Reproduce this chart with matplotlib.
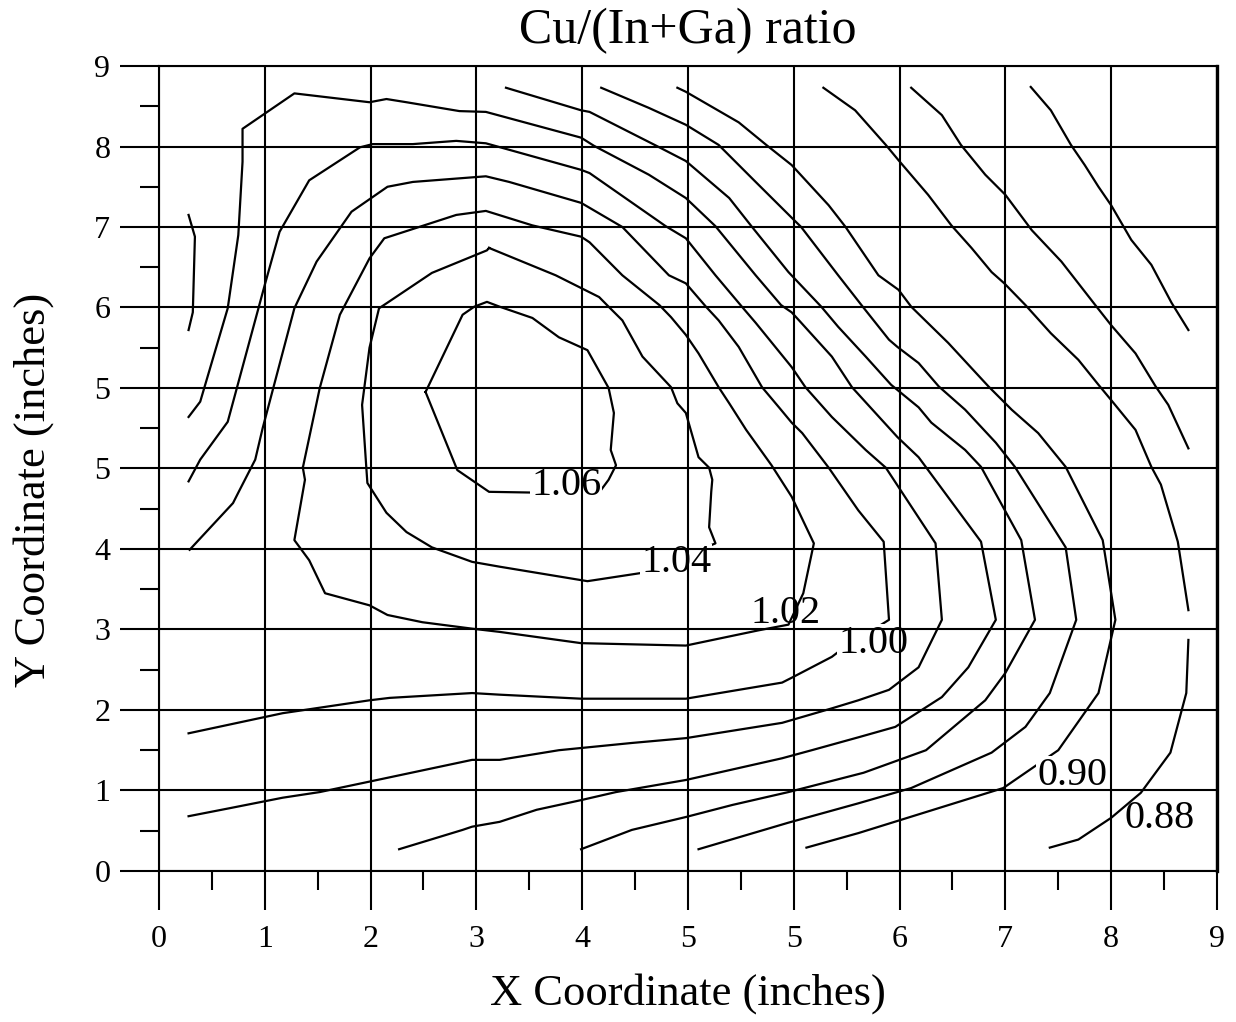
import numpy as np
import matplotlib
matplotlib.use('Agg')
import matplotlib.pyplot as plt

plt.rcParams['font.family'] = 'serif'
plt.rcParams['font.serif'] = ['Liberation Serif', 'DejaVu Serif']

# tick labels exactly as printed on the chart (note the doubled 5)
x_tick_labels = ['0', '1', '2', '3', '4', '5', '5', '6', '7', '8', '9']
y_tick_labels = ['0', '1', '2', '3', '4', '5', '5', '6', '7', '8', '9']

# contour lines, in axis units (0..10 on both axes)
c106_x = [2.52, 2.87, 2.98, 3.10, 3.22, 3.53, 3.78, 4.05, 4.25, 4.30, 4.27, 4.32, 4.25, 4.16, 3.57, 3.12, 2.82, 2.52]
c106_y = [5.95, 6.91, 7.01, 7.07, 7.01, 6.87, 6.63, 6.47, 6.00, 5.69, 5.23, 5.04, 4.86, 4.70, 4.70, 4.71, 4.98, 5.95]

c104_x = [3.12, 3.75, 4.16, 4.25, 4.38, 4.57, 4.84, 4.90, 4.98, 5.10, 5.20, 5.23, 5.22, 5.20, 5.26,
          4.60, 4.05, 3.22, 2.96, 2.58, 2.34, 2.15, 1.97, 1.96, 1.92, 1.99, 2.08, 2.16, 2.58, 3.10, 3.12]
c104_y = [7.74, 7.40, 7.13, 7.01, 6.84, 6.39, 6.01, 5.81, 5.69, 5.14, 5.01, 4.86, 4.71, 4.27, 4.07,
          3.71, 3.60, 3.78, 3.84, 4.02, 4.21, 4.45, 4.82, 5.01, 5.79, 6.50, 6.99, 7.06, 7.43, 7.71, 7.74]

c102_x = [1.36, 1.52, 1.71, 1.99, 2.13, 2.81, 3.09, 3.31, 3.53, 3.99, 4.07, 4.38, 4.73, 4.84, 4.98, 5.10,
          5.29, 5.39, 5.55, 5.79, 5.98, 6.19, 6.09, 5.95, 5.67, 4.98, 3.99, 3.22, 2.96, 2.49, 2.16, 1.99,
          1.57, 1.42, 1.28, 1.38, 1.36]
c102_y = [5.01, 6.00, 6.91, 7.61, 7.86, 8.15, 8.20, 8.11, 8.02, 7.88, 7.81, 7.40, 7.03, 6.88, 6.66, 6.43,
          6.01, 5.81, 5.48, 5.04, 4.65, 4.07, 3.45, 3.06, 2.99, 2.80, 2.83, 2.97, 3.01, 3.09, 3.18, 3.30,
          3.45, 3.86, 4.11, 4.86, 5.01]

c100_x = [0.29, 0.70, 0.75, 0.91, 0.98, 1.28, 1.49, 1.82, 2.16, 2.40, 3.09, 3.31, 3.99, 4.38, 4.82, 4.98,
          5.17, 5.29, 5.48, 5.70, 5.86, 5.98, 6.08, 6.33, 6.61, 6.85, 6.90, 6.45, 6.36, 5.98, 5.89, 4.98,
          3.99, 3.22, 2.96, 2.18, 1.99, 1.17, 0.28]
c100_y = [3.99, 4.57, 4.70, 5.11, 5.50, 6.99, 7.57, 8.19, 8.50, 8.56, 8.63, 8.56, 8.30, 8.00, 7.40, 7.30,
          7.01, 6.84, 6.51, 6.01, 5.76, 5.57, 5.44, 5.01, 4.48, 4.09, 3.12, 2.75, 2.66, 2.40, 2.34, 2.14,
          2.14, 2.19, 2.21, 2.15, 2.12, 1.96, 1.71]

c098_x = [0.28, 0.39, 0.65, 1.00, 1.14, 1.42, 1.90, 2.02, 2.40, 2.81, 3.09, 3.99, 4.07, 4.79, 4.98, 5.26,
          5.51, 5.64, 5.98, 6.11, 6.36, 6.68, 6.87, 7.34, 7.40, 7.18, 6.90, 6.61, 6.36, 5.89, 4.98, 4.47,
          3.78, 3.22, 2.96, 1.99, 1.52, 1.17, 0.67, 0.28]
c098_y = [4.84, 5.11, 5.58, 7.28, 7.94, 8.58, 8.99, 9.03, 9.03, 9.07, 9.04, 8.71, 8.67, 8.01, 7.86, 7.40,
          7.01, 6.81, 6.26, 6.01, 5.64, 5.23, 5.01, 4.07, 3.12, 2.53, 2.25, 2.12, 2.02, 1.84, 1.65, 1.59,
          1.50, 1.38, 1.38, 1.11, 0.98, 0.91, 0.78, 0.68]

c096_x = [0.28, 0.39, 0.65, 0.75, 0.79, 0.79, 1.28, 1.99, 2.15, 2.34, 2.84, 3.09, 3.99, 4.11, 4.63, 4.98,
          5.26, 5.64, 5.88, 5.98, 6.05, 6.36, 6.55, 6.98, 7.18, 7.27, 7.77, 7.91, 7.65, 7.40, 6.96, 6.61,
          6.17, 5.89, 4.98, 4.32, 3.99, 3.57, 3.22, 2.96, 2.87, 2.27]
c096_y = [5.64, 5.83, 6.99, 7.90, 8.81, 9.22, 9.66, 9.55, 9.59, 9.55, 9.44, 9.43, 9.11, 9.01, 8.65, 8.36,
          8.01, 7.40, 7.03, 6.94, 6.84, 6.39, 6.01, 5.39, 5.14, 4.98, 4.09, 3.12, 2.53, 2.16, 1.79, 1.66,
          1.50, 1.40, 1.13, 0.98, 0.88, 0.76, 0.61, 0.55, 0.51, 0.27]

c094_x = [3.28, 3.99, 4.07, 4.70, 4.98, 5.39, 5.60, 5.95, 6.26, 6.42, 6.68, 6.92, 7.18, 7.30, 7.62, 7.77,
          8.15, 8.28, 8.00, 7.81, 7.25, 6.66, 5.95, 5.42, 4.98, 4.47, 3.99]
c094_y = [9.73, 9.45, 9.43, 9.01, 8.82, 8.36, 8.01, 7.44, 7.01, 6.76, 6.39, 6.04, 5.76, 5.57, 5.23, 5.02,
          4.11, 3.12, 2.46, 2.12, 1.50, 1.22, 0.98, 0.82, 0.67, 0.51, 0.27]

c092_x = [4.18, 4.63, 4.98, 5.29, 5.64, 6.00, 6.07, 6.42, 6.64, 6.90, 6.98, 7.18, 7.37, 7.62, 7.91, 8.09,
          8.57, 8.67, 8.42, 8.19, 7.87, 7.11, 6.61, 5.95, 5.10]
c092_y = [9.73, 9.48, 9.27, 9.02, 8.56, 8.09, 8.00, 7.40, 7.03, 6.60, 6.51, 6.31, 6.02, 5.73, 5.32, 5.02,
          4.02, 3.12, 2.21, 1.79, 1.47, 1.03, 0.84, 0.60, 0.27]

c090_x = [4.90, 4.98, 5.48, 5.74, 5.98, 6.33, 6.49, 6.80, 6.99, 7.11, 7.46, 7.84, 8.06, 8.31, 8.57, 8.92,
          9.04, 8.88, 8.50, 7.98, 6.61, 6.12]
c090_y = [9.73, 9.68, 9.30, 9.02, 8.77, 8.27, 8.00, 7.40, 7.22, 7.01, 6.56, 6.02, 5.73, 5.44, 5.02, 4.11,
          3.12, 2.21, 1.50, 1.03, 0.47, 0.29]

# 0.88 touches the right edge of the data and is drawn in two pieces
c088a_x = [6.28, 6.58, 6.87, 6.99, 7.27, 7.49, 7.68, 7.87, 7.99, 8.19, 8.43, 8.69, 8.88, 9.00, 9.23, 9.38,
           9.47, 9.63, 9.73]
c088a_y = [9.73, 9.45, 9.02, 8.83, 8.40, 8.02, 7.74, 7.44, 7.30, 7.03, 6.68, 6.35, 6.04, 5.85, 5.48, 5.02,
           4.80, 4.09, 3.24]
c088b_x = [9.73, 9.71, 9.56, 9.28, 9.00, 8.69, 8.42]
c088b_y = [2.87, 2.21, 1.47, 0.97, 0.66, 0.39, 0.29]

c086_x = [7.11, 7.40, 7.58, 7.81, 8.00, 8.25, 8.53, 8.85, 9.00, 9.23, 9.42, 9.54, 9.73]
c086_y = [9.73, 9.39, 9.02, 8.65, 8.40, 7.96, 7.57, 7.03, 6.78, 6.43, 6.02, 5.79, 5.25]

c084_x = [8.24, 8.43, 8.62, 8.75, 8.88, 9.00, 9.19, 9.38, 9.57, 9.73]
c084_y = [9.74, 9.45, 9.02, 8.77, 8.50, 8.27, 7.84, 7.53, 7.06, 6.72]

# short piece at the left edge
c_left_x = [0.28, 0.34, 0.32, 0.28]
c_left_y = [8.15, 7.88, 6.94, 6.72]

lines = [(c106_x, c106_y), (c104_x, c104_y), (c102_x, c102_y), (c100_x, c100_y),
         (c098_x, c098_y), (c096_x, c096_y), (c094_x, c094_y), (c092_x, c092_y),
         (c090_x, c090_y), (c088a_x, c088a_y), (c088b_x, c088b_y), (c086_x, c086_y),
         (c084_x, c084_y), (c_left_x, c_left_y)]

# in-line labels: text, x centre, baseline y, whether the line is cut under it
label_text = ['1.06', '1.04', '1.02', '1.00', '0.90', '0.88']
label_x = [3.85, 4.89, 5.92, 6.75, 8.63, 9.46]
label_y = [4.67, 3.71, 3.08, 2.71, 1.07, 0.53]
label_gap = [True, True, False, True, True, False]

fig = plt.figure(figsize=(12.36, 10.22), dpi=100)
ax = fig.add_axes([0.1286, 0.1478, 0.8560, 0.7876])

for xs, ys in lines:
    ax.plot(xs, ys, color='black', lw=1.6, zorder=1.5)

# label boxes sit over the contour lines but under the grid, as on the scan
for t, lx, ly, gap in zip(label_text, label_x, label_y, label_gap):
    box = dict(fc='white', ec='none', pad=0.5) if gap else None
    ax.text(lx, ly, t, fontsize=29, ha='center', va='baseline', bbox=box, zorder=2)

ax.set_xlim(0, 10)
ax.set_ylim(0, 10)
ax.set_xticks(range(11))
ax.set_xticklabels(x_tick_labels)
ax.set_yticks(range(11))
ax.set_yticklabels(y_tick_labels)
ax.set_xticks(np.arange(0.5, 10, 1), minor=True)
ax.set_yticks(np.arange(0.5, 10, 1), minor=True)
ax.set_axisbelow(False)
ax.grid(True, which='major', color='black', lw=1.5)
ax.tick_params(which='major', direction='out', length=28, width=1.5, labelsize=23, colors='black')
ax.tick_params(axis='x', which='major', pad=11)
ax.tick_params(axis='y', which='major', pad=7)
ax.tick_params(which='minor', direction='out', length=14, width=1.5)
for s in ['left', 'bottom', 'top']:
    ax.spines[s].set_linewidth(1.5)
ax.spines['right'].set_linewidth(2.4)

fig.text(0.5566, 0.970, 'Cu/(In+Ga) ratio', fontsize=36, ha='center', va='center')
fig.text(0.5566, 0.028, 'X Coordinate (inches)', fontsize=32, ha='center', va='center')
fig.text(0.027, 0.521, 'Y Coordinate (inches)', fontsize=32, ha='center', va='center', rotation=90)

fig.savefig('out.png', dpi=100)
